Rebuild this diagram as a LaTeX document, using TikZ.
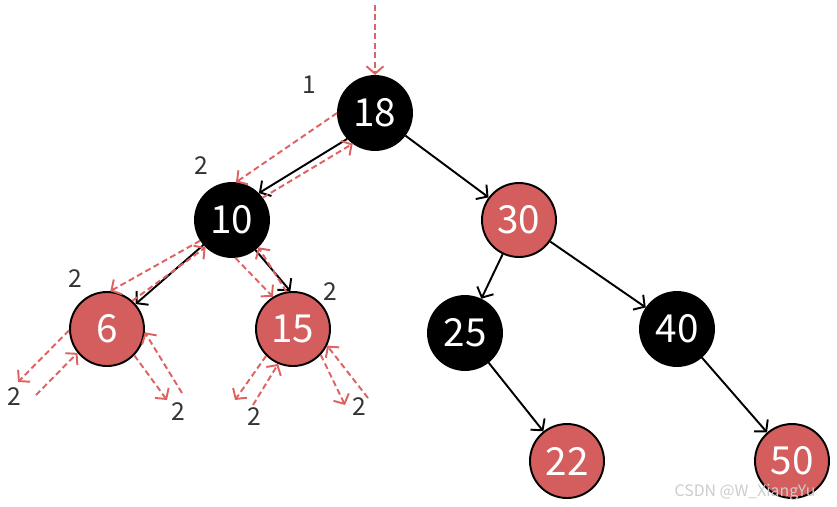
\documentclass[tikz,border=0pt]{standalone}
\usepackage{fontspec}
\setmainfont{Noto Sans CJK SC}
\usepackage{xcolor}
\usetikzlibrary{calc}
\usetikzlibrary{arrows.meta}
\definecolor{nodered}{RGB}{212,94,94}
\definecolor{walkred}{RGB}{222,98,98}
\definecolor{countgray}{RGB}{51,51,51}
\tikzstyle{blacknode} = [circle, 
minimum size=1.48cm, 
inner sep=0pt, 
draw=black, line width=1.1pt, 
fill=black, text=white, 
font=\fontsize{22}{26}\selectfont]
\tikzstyle{rednode} = [blacknode, fill=nodered]
\tikzstyle{edge} = [line width=1.1pt, -{Straight Barb[length=1.6mm, width=3.6mm]}]
\tikzstyle{walk} = [walkred, line width=1.1pt, 
dash pattern=on 3.4pt off 2pt, 
-{Straight Barb[length=1.5mm, width=3.4mm]}]
\tikzstyle{count} = [text=countgray, font=\fontsize{14}{16}\selectfont]

\begin{document}
\begin{tikzpicture}

    % the tree nodes
    \node (N18) [blacknode] at (0,0) {18};
    \useasboundingbox (-7.5,2.26) rectangle (9.24,-7.86);

    \node (N10) [blacknode] at ($(N18) + (-2.86,-2.14)$) {10};
    \node (N30) [rednode] at ($(N18) + (2.88,-2.14)$) {30};

    \node (N6) [rednode] at ($(N10) + (-2.5,-2.18)$) {6};
    \node (N15) [rednode] at ($(N10) + (1.22,-2.18)$) {15};
    \node (N25) [blacknode] at ($(N30) + (-1.08,-2.26)$) {25};
    \node (N40) [blacknode] at ($(N30) + (3.16,-2.18)$) {40};

    \node (N22) [rednode] at ($(N25) + (2.04,-2.56)$) {22};
    \node (N50) [rednode] at ($(N40) + (2.3,-2.64)$) {50};

    % the empty children
    \coordinate (Start) at ($(N18) + (0,2.16)$);
    \coordinate (Nil6La) at ($(N6) + (-1.78,-1.06)$);
    \coordinate (Nil6Lb) at ($(N6) + (-1.42,-1.32)$);
    \coordinate (Nil6Ra) at ($(N6) + (1.2,-1.42)$);
    \coordinate (Nil6Rb) at ($(N6) + (1.5,-1.28)$);
    \coordinate (Nil15La) at ($(N15) + (-1.16,-1.42)$);
    \coordinate (Nil15Lb) at ($(N15) + (-0.8,-1.52)$);
    \coordinate (Nil15Ra) at ($(N15) + (1.04,-1.52)$);
    \coordinate (Nil15Rb) at ($(N15) + (1.5,-1.38)$);

    % the edges
    \draw [edge] (N18.223) -- (N10.45);
    \draw [edge] (N18) -- (N30);
    \draw [edge] (N10) -- (N6);
    \draw [edge] (N10.-52) -- (N15.94);
    \draw [edge] (N30) -- (N25);
    \draw [edge] (N30) -- (N40);
    \draw [edge] (N25) -- (N22);
    \draw [edge] (N40) -- (N50);

    % the walk
    \draw [walk] (Start) -- (N18.north);

    \draw [walk] (N18.180) -- (N10.84);
    \draw [walk] (N10.36) -- (N18.234);

    \draw [walk] (N10.213) -- (N6.85);
    \draw [walk] (N6.48) -- (N10.226);

    \draw [walk] (N10.-85) -- (N15.122);
    \draw [walk] (N15.100) -- (N10.-46);

    \draw [walk] (N6.182) -- (Nil6La);
    \draw [walk] (Nil6Lb) -- (N6.219);
    \draw [walk] (N6.-44) -- (Nil6Ra);
    \draw [walk] (Nil6Rb) -- (N6.-5);

    \draw [walk] (N15.225) -- (Nil15La);
    \draw [walk] (Nil15Lb) -- (N15.247);
    \draw [walk] (N15.-43) -- (Nil15Ra);
    \draw [walk] (Nil15Rb) -- (N15.-26);

    % annotations
    \node (C18) [count] at ($(N18) + (-1.32,0.56)$) {1};
    \node (C10) [count] at ($(N10) + (-0.62,1.08)$) {2};
    \node (C6) [count] at ($(N6) + (-0.64,1.0)$) {2};
    \node (C15) [count] at ($(N15) + (0.74,0.74)$) {2};
    \node (C6L) [count] at ($(N6) + (-1.86,-1.36)$) {2};
    \node (C6R) [count] at ($(N6) + (1.42,-1.66)$) {2};
    \node (C15L) [count] at ($(N15) + (-0.78,-1.76)$) {2};
    \node (C15R) [count] at ($(N15) + (1.32,-1.56)$) {2};

    \node (Mark) [text=black!20, font=\fontsize{9}{10}\selectfont] at ($(N18) + (7.4,-7.58)$) {CSDN @W\_XiangYu};

\end{tikzpicture}
\end{document}
